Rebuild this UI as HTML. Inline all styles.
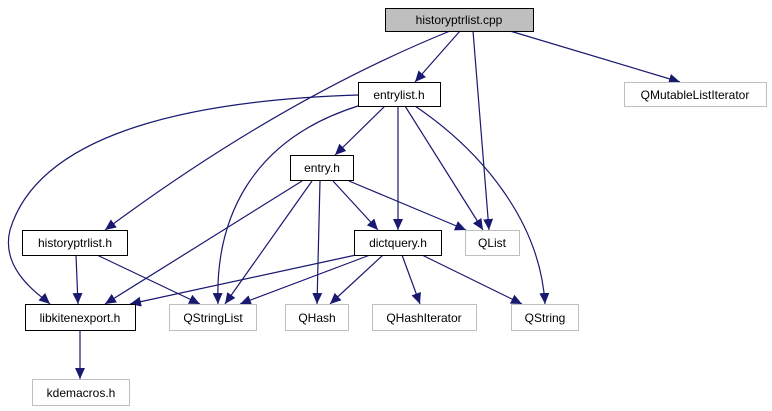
<!DOCTYPE html>
<html><head><meta charset="utf-8"><style>
html,body{margin:0;padding:0;background:#fff;width:772px;height:411px;overflow:hidden}
text{font-family:"Liberation Sans",sans-serif;font-size:12px;fill:#000;text-anchor:middle}
</style></head><body>
<svg width="772" height="411" viewBox="0 0 772 411" xmlns="http://www.w3.org/2000/svg">
<defs><marker id="a" markerWidth="11" markerHeight="10" refX="11" refY="5" orient="auto" markerUnits="userSpaceOnUse"><path d="M0,0 L11,5 L0,10 z" fill="#191970"/></marker></defs>
<g fill="none" stroke="#191970" stroke-width="1.2" marker-end="url(#a)">
<path d="M460,31 L415,82"/>
<path d="M510,31 L680,82"/>
<path d="M473,31 L489,230"/>
<path d="M450,31 Q280,100 105,230"/>
<path d="M358,95 C200,100 40,130 10,230 C0,270 40,295 50,304"/>
<path d="M358,106 C250,140 215,220 218,304"/>
<path d="M385,106 L335,155"/>
<path d="M398,106 L398,230"/>
<path d="M405,106 L483,230"/>
<path d="M415,106 C480,150 540,220 545,304"/>
<path d="M302,181 L105,304"/>
<path d="M312,181 L225,304"/>
<path d="M320,181 L317,304"/>
<path d="M333,181 L378,230"/>
<path d="M349,181 L466,230"/>
<path d="M76,255 L78,304"/>
<path d="M97,255 L200,304"/>
<path d="M356,255 L130,304"/>
<path d="M370,255 L240,304"/>
<path d="M383,255 L330,304"/>
<path d="M402,255 L420,304"/>
<path d="M422,255 L522,304"/>
<path d="M80,330 L80,379"/>
</g>
<g stroke-width="1">
<rect x="385.5" y="8.5" width="148" height="23" fill="#bfbfbf" stroke="#000"/>
<rect x="358.5" y="82.5" width="82" height="24" fill="#fff" stroke="#000"/>
<rect x="624.5" y="82.5" width="142" height="24" fill="#fff" stroke="#bfbfbf"/>
<rect x="290.5" y="155.5" width="63" height="25" fill="#fff" stroke="#000"/>
<rect x="22.5" y="230.5" width="105" height="25" fill="#fff" stroke="#000"/>
<rect x="354.5" y="230.5" width="87" height="25" fill="#fff" stroke="#000"/>
<rect x="465.5" y="230.5" width="54" height="25" fill="#fff" stroke="#bfbfbf"/>
<rect x="25.5" y="304.5" width="110" height="26" fill="#fff" stroke="#000"/>
<rect x="169.5" y="304.5" width="87" height="26" fill="#fff" stroke="#bfbfbf"/>
<rect x="285.5" y="304.5" width="63" height="26" fill="#fff" stroke="#bfbfbf"/>
<rect x="372.5" y="304.5" width="104" height="26" fill="#fff" stroke="#bfbfbf"/>
<rect x="511.5" y="304.5" width="67" height="26" fill="#fff" stroke="#bfbfbf"/>
<rect x="32.5" y="379.5" width="97" height="26" fill="#fff" stroke="#bfbfbf"/>
</g>
<text x="459" y="24">historyptrlist.cpp</text>
<text x="399" y="99">entrylist.h</text>
<text x="695" y="99">QMutableListIterator</text>
<text x="322" y="172">entry.h</text>
<text x="75" y="247">historyptrlist.h</text>
<text x="398" y="247">dictquery.h</text>
<text x="492" y="247">QList</text>
<text x="80" y="322">libkitenexport.h</text>
<text x="213" y="322">QStringList</text>
<text x="317" y="322">QHash</text>
<text x="424" y="322">QHashIterator</text>
<text x="545" y="322">QString</text>
<text x="81" y="397">kdemacros.h</text>
</svg>
</body></html>
